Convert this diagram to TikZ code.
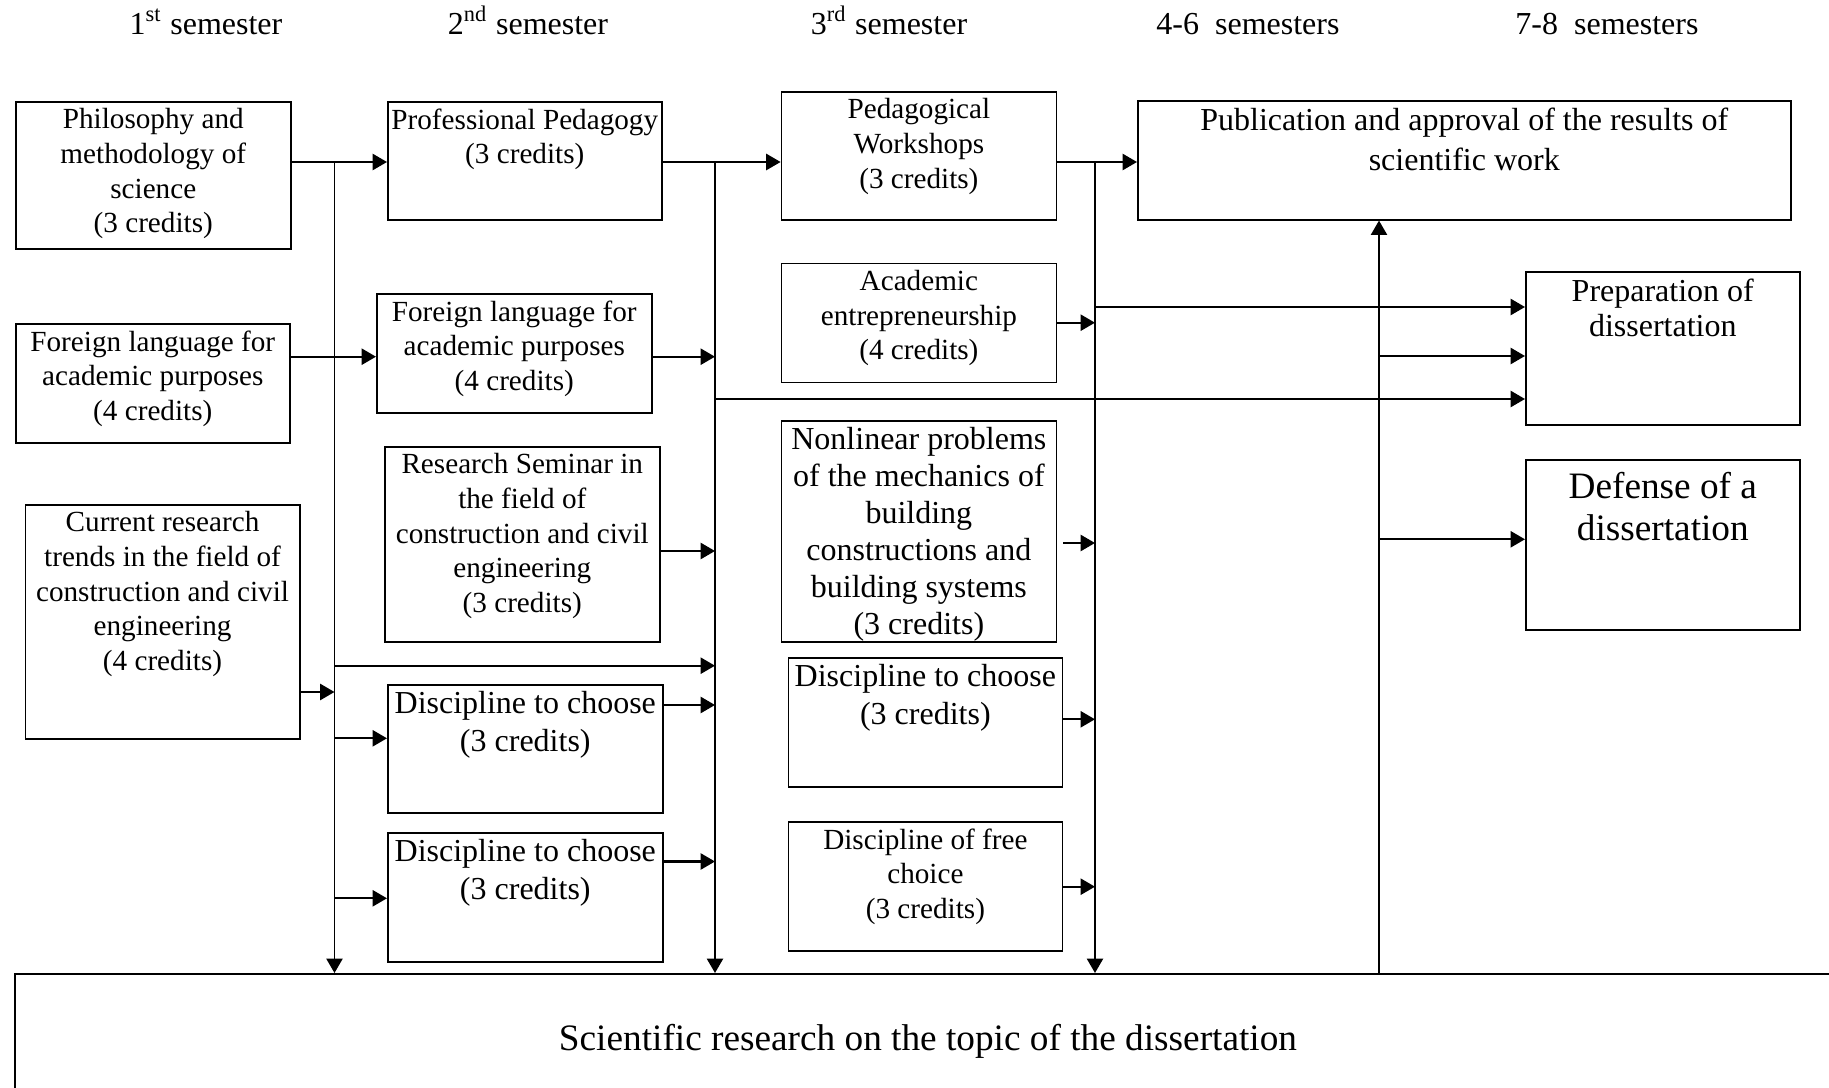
\documentclass[tikz,border=0pt]{standalone}
\usepackage{fontspec}
\setmainfont{Liberation Serif}
\usetikzlibrary{arrows.meta}

\newlength{\pxunit}
\setlength{\pxunit}{0.01cm}
\newcommand{\smallfs}{\fontsize{8.3}{9.85}\selectfont}
\newcommand{\midfs}{\fontsize{9.1}{10.8}\selectfont}
\newcommand{\bigfs}{\fontsize{10.6}{11.8}\selectfont}
\newcommand{\cellbox}[3]{\parbox[c][#2\pxunit][t]{#1\pxunit}{\centering\vspace*{1.9pt}#3}}

\begin{document}
\begin{tikzpicture}[x=0.01cm, y=-0.01cm,
  >={Triangle[length=4.1pt,width=4.6pt]},
  course/.style={draw, shape=rectangle, inner sep=0pt, anchor=north west, line width=0.45pt},
  link/.style={->, line width=0.6pt},
  bus/.style={->, line width=0.55pt}]
\useasboundingbox (0,0) rectangle (1829,1088);
\midfs

\node (sem_1) [anchor=base] at (206,35) {1\textsuperscript{st} semester};
\node (sem_2) [anchor=base] at (528,35) {2\textsuperscript{nd} semester};
\node (sem_3) [anchor=base] at (889,35) {3\textsuperscript{rd} semester};
\node (sem_4_6) [anchor=base] at (1248,35) {4-6\ \ semesters};
\node (sem_7_8) [anchor=base] at (1607,35) {7-8\ \ semesters};

\node (phil) [course] at (15,101) {\cellbox{275}{147}{\smallfs Philosophy and\\ methodology of\\ science\\ (3 credits)}};
\node (lang_1) [course] at (15,323) {\cellbox{274}{119}{\smallfs Foreign language for\\ academic purposes\\ (4 credits)}};
\node (trends) [course] at (24.5,504) {\cellbox{274.5}{234}{\smallfs Current research\\ trends in the field of\\ construction and civil\\ engineering\\ (4 credits)}};

\node (pedagogy) [course] at (387,101) {\cellbox{274}{118}{\smallfs Professional Pedagogy\\ (3 credits)}};
\node (lang_2) [course] at (376,293) {\cellbox{275}{119}{\smallfs Foreign language for\\ academic purposes\\ (4 credits)}};
\node (seminar) [course] at (384,446) {\cellbox{275}{195}{\smallfs Research Seminar in\\ the field of\\ construction and civil\\ engineering\\ (3 credits)}};
\node (choice_1) [course] at (387,684) {\cellbox{275}{128}{\midfs Discipline to choose\\ (3 credits)}};
\node (choice_2) [course] at (387,832) {\cellbox{275}{129}{\midfs Discipline to choose\\ (3 credits)}};

\node (workshops) [course] at (780.6,91) {\cellbox{275}{128}{\smallfs Pedagogical\\ Workshops\\ (3 credits)}};
\node (entrepreneurship) [course] at (780.6,262.7) {\cellbox{275}{119}{\smallfs Academic\\ entrepreneurship\\ (4 credits)}};
\node (mechanics) [course] at (780.6,420) {\cellbox{275}{221}{\fontsize{9.1}{10.5}\selectfont Nonlinear problems\\ of the mechanics of\\ building\\ constructions and\\ building systems\\ (3 credits)}};
\node (choice_3) [course] at (787.6,657) {\cellbox{274}{129}{\midfs Discipline to choose\\ (3 credits)}};
\node (free_choice) [course] at (787.6,821) {\cellbox{274}{129}{\smallfs Discipline of free\\ choice\\ (3 credits)}};

\node (publication) [course] at (1137,100) {\cellbox{653}{119}{\fontsize{9.1}{11.4}\selectfont Publication and approval of the results of\\ scientific work}};
\node (preparation) [course] at (1525,271) {\cellbox{274}{153}{\fontsize{9.1}{10}\selectfont Preparation of\\ dissertation}};
\node (defense) [course] at (1525,459.3) {\cellbox{274}{170}{\vspace*{1.6pt}\bigfs Defense of a\\ dissertation}};

\node (research) [draw, shape=rectangle, anchor=north west, minimum width=1826\pxunit, minimum height=134\pxunit, line width=0.55pt] at (14,973) {\bigfs Scientific research on the topic of the dissertation};

\coordinate (bus_1) at (334.5,162);
\coordinate (bus_2) at (715,162);
\coordinate (bus_3) at (1095,162);
\coordinate (bus_4) at (1379,973);

\coordinate (join_lang) at (334.5,356.7);
\coordinate (link_bus) at (334.5,665.7);
\coordinate (in_trends) at (334.5,692);
\coordinate (out_choice_1) at (334.5,738.3);
\coordinate (out_choice_2) at (334.5,898.3);
\coordinate (to_prep_3) at (715,399);
\coordinate (in_seminar) at (715,551);
\coordinate (in_choice_1) at (715,705);
\coordinate (in_choice_2) at (715,861.5);
\coordinate (to_prep_1) at (1095,307);
\coordinate (in_entre) at (1095,322.7);
\coordinate (in_mech) at (1095,543);
\coordinate (in_choice_3) at (1095,719.3);
\coordinate (in_free) at (1095,886.7);
\coordinate (to_prep_2) at (1379,356);
\coordinate (to_defense) at (1379,539.3);

\draw[link] (phil.east |- bus_1) -- (pedagogy.west |- bus_1);
\draw[link] (pedagogy.east |- bus_2) -- (workshops.west |- bus_2);
\draw[link] (workshops.east |- bus_3) -- (publication.west |- bus_3);

\draw[bus] (bus_1) -- (bus_1 |- research.north);
\draw[bus] (bus_2) -- (bus_2 |- research.north);
\draw[bus] (bus_3) -- (bus_3 |- research.north);
\draw[bus] (bus_4) -- (bus_4 |- publication.south);

\draw[link] (lang_1.east |- join_lang) -- (lang_2.west |- join_lang);
\draw[link] (lang_2.east |- join_lang) -- (join_lang -| bus_2);
\draw[link] (trends.east |- in_trends) -- (in_trends);
\draw[link] (link_bus) -- (link_bus -| bus_2);
\draw[link] (out_choice_1) -- (choice_1.west |- out_choice_1);
\draw[link] (out_choice_2) -- (choice_2.west |- out_choice_2);

\draw[link] (seminar.east |- in_seminar) -- (in_seminar);
\draw[link] (choice_1.east |- in_choice_1) -- (in_choice_1);
\draw[link] (choice_2.east |- in_choice_2) -- (in_choice_2);

\draw[link] (entrepreneurship.east |- in_entre) -- (in_entre);
\draw[link, shorten <=1.7pt] (mechanics.east |- in_mech) -- (in_mech);
\draw[link] (choice_3.east |- in_choice_3) -- (in_choice_3);
\draw[link] (free_choice.east |- in_free) -- (in_free);

\draw[link] (to_prep_1) -- (preparation.west |- to_prep_1);
\draw[link] (to_prep_2) -- (preparation.west |- to_prep_2);
\draw[link] (to_prep_3) -- (preparation.west |- to_prep_3);
\draw[link] (to_defense) -- (defense.west |- to_defense);
\end{tikzpicture}
\end{document}
